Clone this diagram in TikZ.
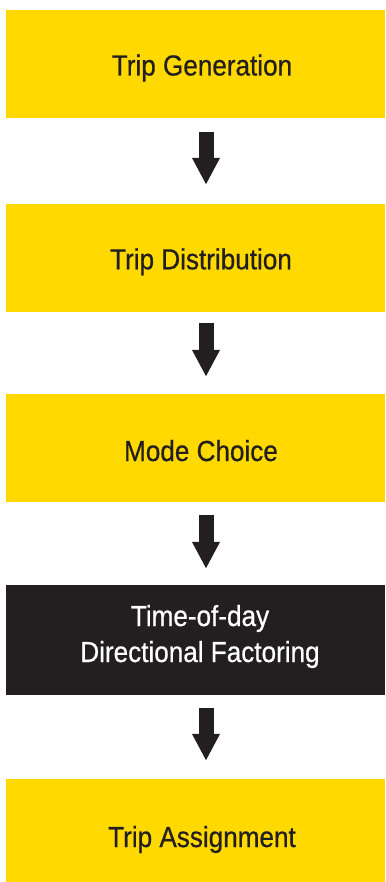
\documentclass[tikz,border=0pt]{standalone}
\usepackage{fontspec}
\setmainfont{Liberation Sans}[FakeStretch=0.9,FakeBold=0.6]
\usetikzlibrary{arrows.meta}
\definecolor{boxyellow}{HTML}{FFD900}
\definecolor{boxdark}{HTML}{231F20}
\begin{document}
\begin{tikzpicture}[x=1pt,y=-1pt,
  stage/.style={fill=boxyellow, draw=none, minimum width=379pt, inner sep=0pt,
    anchor=center},
  darkstage/.style={stage, fill=boxdark},
  label/.style={inner sep=0pt, anchor=base, text=boxdark,
    font=\fontsize{29pt}{36pt}\selectfont},
  darklabel/.style={label, text=white},
  flowarrow/.style={draw=boxdark, line width=15pt,
    -{Triangle[length=27pt,width=26pt]}}]
\useasboundingbox (0,0) rectangle (385,882);
\node[stage, minimum height=108pt] (gen) at (195.5,64) {};
\node[stage, minimum height=108pt] (dist) at (195.5,258) {};
\node[stage, minimum height=108pt] (mode) at (195.5,448) {};
\node[darkstage, minimum height=110pt] (tod) at (195.5,640) {};
\node[stage, minimum height=103pt] (assign) at (195.5,830.5) {};
\node[label] (genT) at (202,75.5) {Trip Generation};
\node[label] (distT) at (201,269.3) {Trip Distribution};
\node[label] (modeT) at (201,461) {Mode Choice};
\node[darklabel] (todT1) at (200,626) {Time-of-day};
\node[darklabel] (todT2) at (200,662) {Directional Factoring};
\node[label] (assignT) at (202,847) {Trip Assignment};
\draw[flowarrow, shorten <=14pt, shorten >=19pt] ([xshift=10.5pt]gen.south) -- ([xshift=10.5pt]dist.north);
\draw[flowarrow, shorten <=11pt, shorten >=17pt] ([xshift=10.5pt]dist.south) -- ([xshift=10.5pt]mode.north);
\draw[flowarrow, shorten <=13pt, shorten >=16pt] ([xshift=10.5pt]mode.south) -- ([xshift=10.5pt]tod.north);
\draw[flowarrow, shorten <=13pt, shorten >=18pt] ([xshift=10.5pt]tod.south) -- ([xshift=10.5pt]assign.north);
\end{tikzpicture}
\end{document}
